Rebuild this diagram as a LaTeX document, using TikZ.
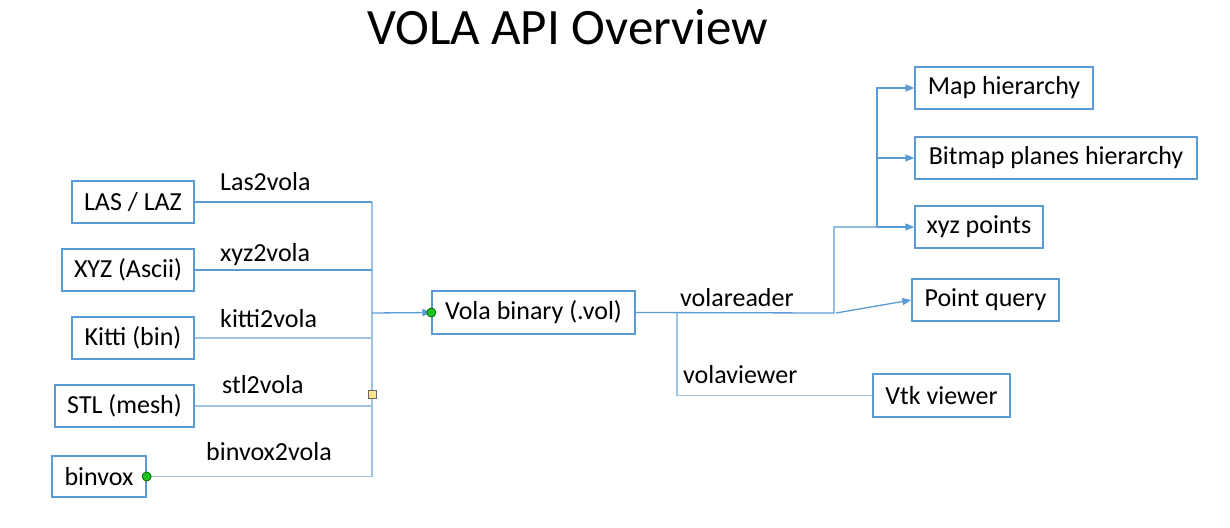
\documentclass[tikz,border=0pt]{standalone}
\usepackage{fontspec}
\setmainfont{Carlito}
\usetikzlibrary{arrows.meta}
\definecolor{lineblue}{HTML}{5B9BD5}
\definecolor{busblue}{HTML}{9DC3E6}
\definecolor{dotgreen}{HTML}{1FC21F}
\definecolor{dotyellow}{HTML}{FFE38A}
\tikzset{
  box/.style={draw=lineblue, line width=1.3, minimum height=42, inner sep=0,
    font=\fontsize{26}{30}\selectfont},
  lbl/.style={anchor=base west, inner sep=0, font=\fontsize{26}{30}\selectfont},
  link/.style={draw=lineblue, line width=1.3},
  bus/.style={draw=busblue, line width=1.8},
  arr/.style={link, -{Triangle[length=9, width=7]}},
  gdot/.style={circle, draw=green!40!black, fill=dotgreen, line width=0.8,
    minimum size=9, inner sep=0},
  ysq/.style={rectangle, draw=gray!80!black, fill=dotyellow, line width=0.8,
    minimum size=8, inner sep=0}
}
\begin{document}
\begin{tikzpicture}[x=1pt, y=-1pt]
  \useasboundingbox (0,0) rectangle (1230,527);
  \node[anchor=base, inner sep=0, font=\fontsize{51}{56}\selectfont] (title) at (567.5,45) {VOLA API Overview};

  \node[box, minimum width=122] (las) at (133,202) {LAS / LAZ};
  \node[box, minimum width=132] (xyzin) at (128,270) {XYZ (Ascii)};
  \node[box, minimum width=122] (kitti) at (133,338) {Kitti (bin)};
  \node[box, minimum width=139] (stl) at (124.5,406) {STL (mesh)};
  \node[box, minimum width=94, minimum height=41] (binvox) at (99,476.5) {binvox};
  \node[box, minimum width=203, minimum height=43] (vola) at (533.5,312.5) {Vola binary (.vol)};

  \node[box, minimum width=178] (maph) at (1004,88) {Map hierarchy};
  \node[box, minimum width=282] (bitmap) at (1056,158) {Bitmap planes hierarchy};
  \node[box, minimum width=128] (xyzpts) at (979,227) {xyz points};
  \node[box, minimum width=147] (pquery) at (985.5,300) {Point query};
  \node[box, minimum width=137, minimum height=43] (vtk) at (941.5,395.5) {Vtk viewer};

  \node[lbl] (l1) at (220,190) {Las2vola};
  \node[lbl] (l2) at (220,261) {xyz2vola};
  \node[lbl] (l3) at (220,327) {kitti2vola};
  \node[lbl] (l4) at (222,393) {stl2vola};
  \node[lbl] (l5) at (206,460) {binvox2vola};
  \node[lbl] (l6) at (680,306) {volareader};
  \node[lbl] (l7) at (683,383) {volaviewer};

  \coordinate (bus) at (372,313);
  \coordinate (split) at (677,313);
  \coordinate (rd) at (834,313);
  \coordinate (fork) at (877,227);

  \begin{scope}
    \draw[bus] (las.east -| bus) -- (binvox.east -| bus);
    \draw[link] (las.east) -- (las.east -| bus);
    \draw[link] (xyzin.east) -- (xyzin.east -| bus);
    \draw[bus] (kitti.east) -- (kitti.east -| bus);
    \draw[bus] (stl.east) -- (stl.east -| bus);
    \draw[bus] (binvox.east) -- (binvox.east -| bus);
    \draw[arr] (bus) -- (vola.west);
  \end{scope}
  \begin{scope}
    \draw[link] (vola.east) -- (rd) |- (fork);
    \draw[arr] (fork) |- (maph.west);
    \draw[arr] (fork) |- (bitmap.west);
    \draw[arr] (fork) -- (xyzpts.west);
    \draw[arr] ([xshift=2]rd) -- (pquery.west);
    \draw[bus] (split) |- (vtk.west);
  \end{scope}

  \node[gdot] (d1) at (binvox.east) {};
  \node[gdot] (d2) at (vola.west) {};
  \node[ysq] (sq) at (372,394) {};
\end{tikzpicture}
\end{document}
